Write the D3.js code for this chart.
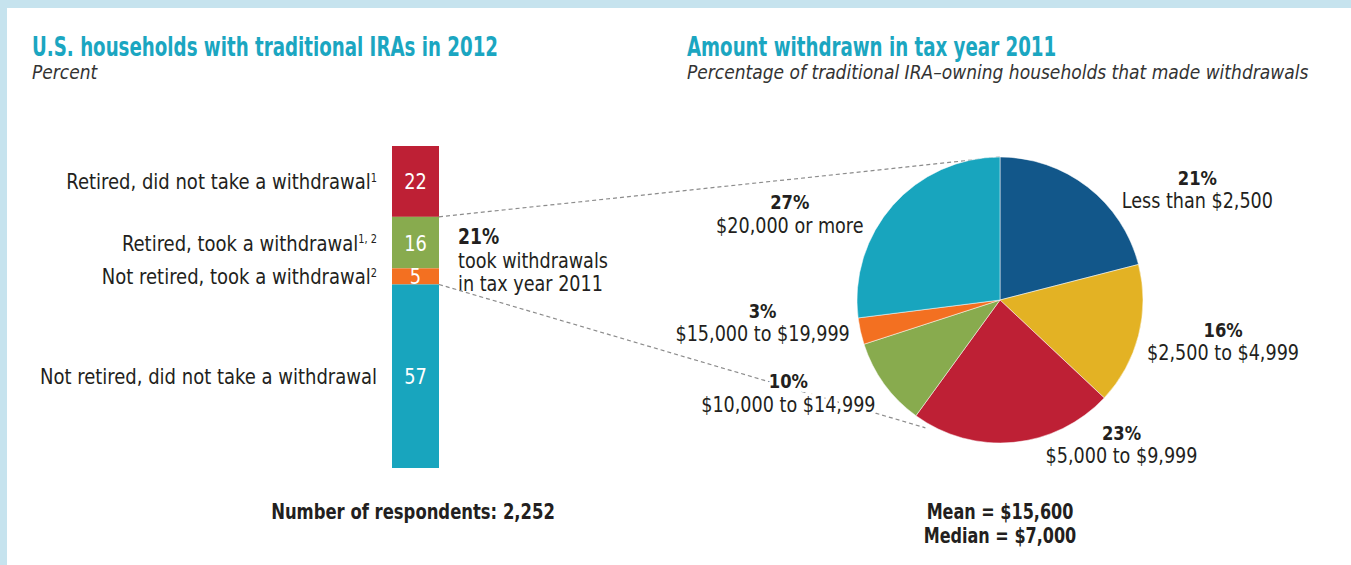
<!DOCTYPE html>
<html>
<head>
<meta charset="utf-8">
<script src="https://cdn.jsdelivr.net/npm/d3@7"></script>
<style>
  body { margin: 0; background: #fff; }
  text { font-family: "DejaVu Sans Condensed", "DejaVu Sans", sans-serif; fill: #231f20; }
  .title { fill: #1ba6c1; font-weight: bold; font-size: 26px; }
  .subtitle { font-style: italic; font-size: 20px; fill: #333; }
</style>
</head>
<body>
<svg id="chart" width="1351" height="565"></svg>
<script>
// Left panel: households with traditional IRAs, percent
var barCategories = ["Retired, did not take a withdrawal", "Retired, took a withdrawal",
                     "Not retired, took a withdrawal", "Not retired, did not take a withdrawal"];
var barNotes = ["1", "1, 2", "2", ""];
var barValues = [22, 16, 5, 57];
var barColors = ["#be2035", "#88ab4e", "#f37021", "#18a5be"];

// Right panel: amount withdrawn in tax year 2011
var pieCategories = ["Less than $2,500", "$2,500 to $4,999", "$5,000 to $9,999",
                     "$10,000 to $14,999", "$15,000 to $19,999", "$20,000 or more"];
var pieValues = [21, 16, 23, 10, 3, 27];
var pieColors = ["#12578a", "#e3b224", "#be2035", "#88ab4e", "#f37021", "#18a5be"];

var tookShare = 21;
var respondents = "2,252";
var meanText = "$15,600";
var medianText = "$7,000";

var svg = d3.select("#chart");

// the source font is narrow, so squeeze text horizontally
function addText(parent, x, y, sx) {
    return parent.append("text")
        .attr("transform", "translate(" + x + "," + y + ") scale(" + sx + ",1)");
}

// light blue frame on top and left
svg.append("rect").attr("x", 0).attr("y", 0).attr("width", 1351).attr("height", 8).attr("fill", "#c6e3ee");
svg.append("rect").attr("x", 0).attr("y", 0).attr("width", 7).attr("height", 565).attr("fill", "#c6e3ee");

// titles
addText(svg, 32, 56, 0.78).attr("class", "title").text("U.S. households with traditional IRAs in 2012");
addText(svg, 32, 79, 0.95).attr("class", "subtitle").text("Percent");
addText(svg, 687, 56, 0.78).attr("class", "title").text("Amount withdrawn in tax year 2011");
addText(svg, 687, 79, 0.95).attr("class", "subtitle").text("Percentage of traditional IRA\u2013owning households that made withdrawals");

// ---- stacked bar ----
var barX = 392, barW = 47;
var y = d3.scaleLinear().domain([0, d3.sum(barValues)]).range([146, 468]);
var stack = [];
var acc = 0;
barValues.forEach(function (v, i) {
    stack.push({ cat: barCategories[i], note: barNotes[i], value: v, y0: acc, y1: acc + v, color: barColors[i] });
    acc += v;
});

var seg = svg.append("g").selectAll("g").data(stack).enter().append("g");
seg.append("rect")
    .attr("x", barX).attr("width", barW)
    .attr("y", function (d) { return y(d.y0); })
    .attr("height", function (d) { return y(d.y1) - y(d.y0); })
    .attr("fill", function (d) { return d.color; });
seg.each(function (d) {
    var g = d3.select(this);
    var mid = (y(d.y0) + y(d.y1)) / 2;
    addText(g, barX + barW / 2, mid, 0.9)
        .attr("dy", "0.36em")
        .attr("text-anchor", "middle")
        .style("fill", "#fff").style("font-size", "22px")
        .text(d.value);
    var lab = addText(g, 377, mid, 0.91)
        .attr("dy", "0.36em")
        .attr("text-anchor", "end")
        .style("font-size", "22px");
    lab.append("tspan").text(d.cat);
    lab.append("tspan")
        .attr("baseline-shift", "super")
        .style("font-size", "12px")
        .text(d.note);
});

// annotation for withdrawals
var annLines = [tookShare + "%", "took withdrawals", "in tax year 2011"];
annLines.forEach(function (s, i) {
    addText(svg, 458, 244 + i * 23.5, 0.91)
        .style("font-size", i === 0 ? "21px" : "21.5px")
        .style("font-weight", i === 0 ? "bold" : "normal")
        .text(s);
});

addText(svg, 413, 519, 0.87).attr("text-anchor", "middle")
    .style("font-weight", "bold").style("font-size", "21px")
    .text("Number of respondents: " + respondents);

// ---- pie ----
var cx = 1000, cy = 300, r = 143;
var pie = d3.pie().sort(null).value(function (d) { return d; });
var arcs = pie(pieValues);
var arc = d3.arc().innerRadius(0).outerRadius(r);

// connecting dashed lines (drawn first so labels sit on top)
var tookTop = y(barValues[0]);
var tookBottom = y(barValues[0] + barValues[1] + barValues[2]);
var lowAngle = arcs[3].startAngle - 0.1;
svg.append("line")
    .attr("x1", barX + barW).attr("y1", tookTop)
    .attr("x2", cx).attr("y2", cy - r)
    .attr("stroke", "#8c8c8c").attr("stroke-width", 1.2).attr("stroke-dasharray", "4,3");
svg.append("line")
    .attr("x1", barX + barW).attr("y1", tookBottom)
    .attr("x2", cx + (r + 5) * Math.sin(lowAngle)).attr("y2", cy - (r + 5) * Math.cos(lowAngle))
    .attr("stroke", "#8c8c8c").attr("stroke-width", 1.2).attr("stroke-dasharray", "4,3");

var pg = svg.append("g").attr("transform", "translate(" + cx + "," + cy + ")");
pg.selectAll("path").data(arcs).enter().append("path")
    .attr("d", arc)
    .attr("fill", function (d, i) { return pieColors[i]; })
    .attr("stroke", "#fff").attr("stroke-width", 0.5);

// label placement relative to the pie, in radius units
var labelOffsets = [[1.38, -0.78], [1.56, 0.28], [0.85, 1.0], [-1.48, 0.64], [-1.66, 0.15], [-1.47, -0.61]];
arcs.forEach(function (d, i) {
    var lx = labelOffsets[i][0] * r, ly = labelOffsets[i][1] * r;
    var halo = function (t) {
        return t.attr("text-anchor", "middle")
            .style("paint-order", "stroke").style("stroke", "#fff")
            .style("stroke-width", 8).style("stroke-linejoin", "round");
    };
    halo(addText(pg, lx, ly - 3.5, 0.91)).style("font-weight", "bold").style("font-size", "20px")
        .text(d.data + "%");
    halo(addText(pg, lx, ly + 20, 0.91)).style("font-size", "21.5px")
        .text(pieCategories[i]);
});

addText(svg, cx, 518.5, 0.87).attr("text-anchor", "middle").style("font-weight", "bold").style("font-size", "20.5px")
    .text("Mean = " + meanText);
addText(svg, cx, 543, 0.87).attr("text-anchor", "middle").style("font-weight", "bold").style("font-size", "20.5px")
    .text("Median = " + medianText);
</script>
</body>
</html>
